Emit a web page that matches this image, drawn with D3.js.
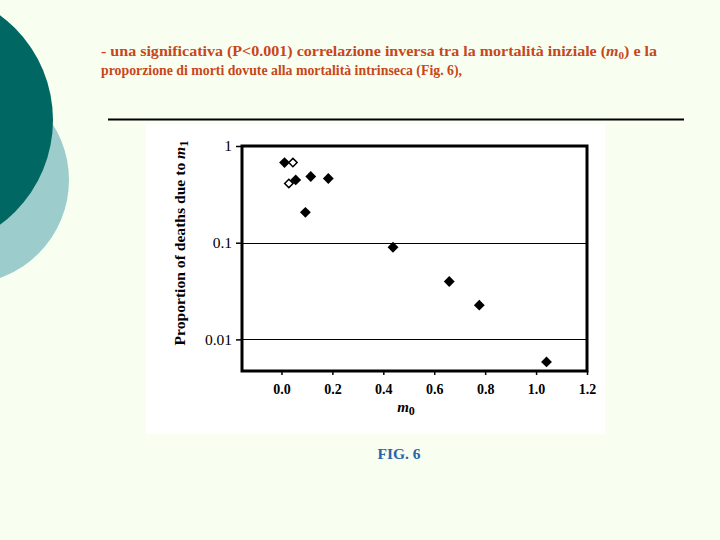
<!DOCTYPE html>
<html><head><meta charset="utf-8">
<script src="https://cdn.jsdelivr.net/npm/d3@7"></script>
<style>body{margin:0;background:#F8FFF0;}svg{display:block;}text{font-family:"Liberation Serif","DejaVu Serif",serif;}</style>
</head><body>
<svg id="c" width="720" height="540"></svg>
<script>
const filledX = [0.012, 0.056, 0.115, 0.184, 0.094, 0.438, 0.659, 0.777, 1.041];
const filledY = [0.674, 0.446, 0.484, 0.461, 0.206, 0.0897, 0.0397, 0.0226, 0.00585];
const openX = [0.045, 0.029];
const openY = [0.674, 0.41];
const xTicks = [0.0, 0.2, 0.4, 0.6, 0.8, 1.0, 1.2];
const yTicks = [1, 0.1, 0.01];
const yTickLabels = ["1", "0.1", "0.01"];

const svg = d3.select("#c");
svg.append("rect").attr("width",720).attr("height",540).attr("fill","#F8FFF0");
svg.append("circle").attr("cx",-35).attr("cy",180).attr("r",104).attr("fill","#9CCCCC");
svg.append("circle").attr("cx",-77).attr("cy",120).attr("r",130).attr("fill","#006763");

const tc = "#C8461A";
const t1 = svg.append("text").attr("x",101).attr("y",56).attr("fill",tc)
  .attr("font-weight","bold").attr("font-size",14.5)
  .attr("textLength",556).attr("lengthAdjust","spacingAndGlyphs");
t1.append("tspan").text("- una significativa (P<0.001) correlazione inversa tra la mortalità iniziale (");
t1.append("tspan").attr("font-style","italic").text("m");
t1.append("tspan").attr("font-size",10).attr("dy",3).text("0");
t1.append("tspan").attr("dy",-3).text(") e la");
svg.append("text").attr("x",101).attr("y",75).attr("fill",tc)
  .attr("font-weight","bold").attr("font-size",14.5)
  .attr("textLength",361).attr("lengthAdjust","spacingAndGlyphs")
  .text("proporzione di morti dovute alla mortalità intrinseca (Fig. 6),");

svg.append("line").attr("x1",108).attr("x2",684).attr("y1",119.5).attr("y2",119.5)
  .attr("stroke","#000").attr("stroke-width",2);

svg.append("rect").attr("x",146).attr("y",124).attr("width",459).attr("height",310).attr("fill","#fff");

const L=242, R=587, T=146, B=371;
const x = d3.scaleLinear().domain([-0.155,1.2]).range([L,R]);
const y = d3.scaleLog().domain([Math.pow(10,-2.3268),1]).range([B,T]);

svg.append("g").selectAll("line").data(yTicks.slice(1)).join("line")
  .attr("x1",L).attr("x2",R).attr("y1",d=>Math.round(y(d))+0.5).attr("y2",d=>Math.round(y(d))+0.5)
  .attr("stroke","#000").attr("stroke-width",1);

const yAxis = svg.append("g").attr("transform",`translate(${L},0)`)
  .call(d3.axisLeft(y).tickValues(yTicks).tickFormat((d,i)=>yTickLabels[i]).tickSize(6).tickPadding(4));
yAxis.select(".domain").remove();
yAxis.selectAll("line").attr("stroke-width",1.5);
yAxis.selectAll("text").attr("font-family",null).attr("font-size",15.5).attr("fill","#000");

const xAxis = svg.append("g").attr("transform",`translate(0,${B})`)
  .call(d3.axisBottom(x).tickValues(xTicks).tickFormat(d3.format(".1f")).tickSize(4).tickPadding(9));
xAxis.select(".domain").remove();
xAxis.selectAll("line").attr("stroke-width",1.5);
xAxis.selectAll("text").attr("font-family",null).attr("font-size",14).attr("font-weight","bold").attr("fill","#000");

svg.append("rect").attr("x",L).attr("y",T).attr("width",R-L).attr("height",B-T)
  .attr("fill","none").attr("stroke","#000").attr("stroke-width",3);

const diamond = d3.symbol().type(d3.symbolDiamond2).size(75);
svg.append("g").selectAll("path").data(filledX.map((v,i)=>[v,filledY[i]])).join("path")
  .attr("d",diamond).attr("transform",d=>`translate(${x(d[0])},${y(d[1])})`).attr("fill","#000");
svg.append("g").selectAll("path").data(openX.map((v,i)=>[v,openY[i]])).join("path")
  .attr("d",d3.symbol().type(d3.symbolDiamond2).size(45))
  .attr("transform",d=>`translate(${x(d[0])},${y(d[1])})`).attr("fill","#fff").attr("stroke","#000").attr("stroke-width",1.5);

const xl = svg.append("text").attr("x",406).attr("y",412).attr("text-anchor","middle")
  .attr("font-size",15).attr("font-weight","bold").attr("font-style","italic");
xl.append("tspan").text("m");
xl.append("tspan").attr("font-size",12).attr("font-style","normal").attr("dy",3).text("0");

const yl = svg.append("text").attr("transform","translate(185,243) rotate(-90)").attr("text-anchor","middle")
  .attr("font-size",15).attr("font-weight","bold").attr("textLength",205).attr("lengthAdjust","spacingAndGlyphs");
yl.append("tspan").text("Proportion of deaths due to ");
yl.append("tspan").attr("font-style","italic").text("m");
yl.append("tspan").attr("font-size",12).attr("dy",3).text("1");

svg.append("text").attr("x",399).attr("y",459).attr("text-anchor","middle").attr("fill","#2A64A8")
  .attr("font-size",15.5).attr("font-weight","bold").text("FIG. 6");
</script>
</body></html>
